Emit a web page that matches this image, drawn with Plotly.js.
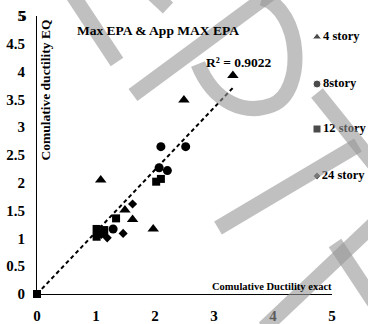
<!DOCTYPE html>
<html>
<head>
<meta charset="utf-8">
<script src="https://cdn.plot.ly/plotly-3.0.1.min.js"></script>
<style>html,body{margin:0;padding:0;background:#fff;}#chart{width:368px;height:324px;}</style>
</head>
<body>
<div id="chart"></div>
<script>
// Data
var story4X = [1.08, 1.49, 1.62, 1.97, 2.49, 3.32];
var story4Y = [2.05, 1.51, 1.34, 1.17, 3.49, 3.93];
var story8X = [2.10, 2.52, 2.07, 2.21, 1.29, 1.12];
var story8Y = [2.65, 2.65, 2.27, 2.22, 1.17, 1.10];
var story12X = [0, 1.01, 1.01, 1.14, 1.06, 1.34, 2.02, 2.10];
var story12Y = [0, 1.17, 1.03, 1.15, 1.09, 1.36, 2.02, 2.07];
var story24X = [1.62, 1.46, 1.19, 1.09];
var story24Y = [1.62, 1.09, 1.01, 1.07];
var trendX = [0, 3.33];
var trendY = [0, 3.72];
var legendLabels = ['4 story', '8story', '12 story', '24 story'];
var legendSymbols = ['triangle-up', 'circle', 'square', 'diamond'];
var legendSizes = [8, 8, 8, 6];
var xTicks = [0, 1, 2, 3, 4, 5];
var yTicks = [0, 0.5, 1, 1.5, 2, 2.5, 3, 3.5, 4, 4.5, 5];

var FONT = 'Liberation Serif, Times New Roman, serif';

// plot-area geometry (pixels) and helpers for decoration / legend placement
var L = 37, T = 16, W = 295, H = 278, XMAX = 5, YMAX = 5;
function PX(p) { return (p - L) / W; }
function PY(p) { return (T + H - p) / H; }
function DX(p) { return PX(p) * XMAX; }   // pixel -> x axis units (legend placement)
function DY(p) { return PY(p) * YMAX; }   // pixel -> y axis units (legend placement)
var legendPxX = 317, legendPxY = [37, 84, 129, 176];

var WM = 'rgba(150,150,150,0.6)';
var wmLines = [
  [72, -6, 117, 62],
  [153, -6, 168, 8],
  [133, 95, 270, -6],
  [317, 93, 374, 164],
  [218, 228, 358, 145],
  [264, 328, 374, 224],
  [335, 243, 374, 302]
];
var shapes = wmLines.map(function (s) {
  return {type: 'line', xref: 'paper', yref: 'paper', layer: 'above',
    x0: PX(s[0]), y0: PY(s[1]), x1: PX(s[2]), y1: PY(s[3]),
    line: {color: WM, width: 15}};
});
function pt(x, y) { return PX(x).toFixed(4) + ',' + PY(y).toFixed(4); }
shapes.push({type: 'path', xref: 'paper', yref: 'paper', layer: 'above',
  path: 'M ' + pt(262, -2) + ' C ' + pt(302, 10) + ' ' + pt(306, 92) + ' ' + pt(272, 105) +
        ' C ' + pt(246, 115) + ' ' + pt(214, 104) + ' ' + pt(198, 64),
  line: {color: WM, width: 15}});

var traces = [
  {x: trendX, y: trendY, mode: 'lines', line: {color: '#000', width: 2, dash: '4px,3px'}, hoverinfo: 'skip', cliponaxis: false},
  {x: story4X, y: story4Y, mode: 'markers', cliponaxis: false, marker: {symbol: 'triangle-up', size: 10, color: '#000'}},
  {x: story8X, y: story8Y, mode: 'markers', cliponaxis: false, marker: {symbol: 'circle', size: 9, color: '#000'}},
  {x: story12X, y: story12Y, mode: 'markers', cliponaxis: false, marker: {symbol: 'square', size: 8, color: '#000'}},
  {x: story24X, y: story24Y, mode: 'markers', cliponaxis: false, marker: {symbol: 'diamond', size: 7, color: '#000'}},
  // legend: symbol + label, placed on the right like the reference
  {x: legendLabels.map(function(){return DX(legendPxX);}), y: legendPxY.map(DY),
   mode: 'markers+text', text: legendLabels, textposition: 'middle right',
   cliponaxis: false,
   textfont: {family: FONT, size: 12.5, color: '#000', weight: 'bold'},
   marker: {symbol: legendSymbols, size: legendSizes, color: '#000'}}
];

var layout = {
  width: 368, height: 324,
  margin: {l: L, r: 368 - L - W, t: T, b: 324 - T - H, pad: 0},
  paper_bgcolor: '#fff', plot_bgcolor: '#fff',
  showlegend: false,
  font: {family: FONT, color: '#000'},
  xaxis: {
    range: [0, XMAX], tickvals: xTicks, showgrid: false, zeroline: false,
    showline: true, linecolor: '#000', linewidth: 1, ticks: '',
    ticklabelstandoff: 8, ticklabeloverflow: 'allow',
    tickfont: {family: FONT, size: 15, color: '#000', weight: 'bold'}
  },
  yaxis: {
    range: [0, YMAX], tickvals: yTicks, showgrid: false, zeroline: false,
    showline: true, linecolor: '#000', linewidth: 1, ticks: '',
    ticklabelstandoff: 8, ticklabeloverflow: 'allow',
    tickfont: {family: FONT, size: 15, color: '#000', weight: 'bold'}
  },
  shapes: shapes,
  annotations: [
    {text: 'Max EPA & App MAX EPA', xref: 'paper', yref: 'paper', x: PX(75), y: PY(30),
     xanchor: 'left', yanchor: 'middle', showarrow: false,
     font: {family: FONT, size: 13.5, color: '#000', weight: 'bold'}},
    {text: 'R² = 0.9022', xref: 'paper', yref: 'paper', x: PX(204), y: PY(63),
     xanchor: 'left', yanchor: 'middle', showarrow: false,
     font: {family: FONT, size: 13.5, color: '#000', weight: 'bold'}},
    {text: 'Comulative Ductility exact', xref: 'paper', yref: 'paper', x: PX(210), y: PY(286),
     xanchor: 'left', yanchor: 'middle', showarrow: false,
     font: {family: FONT, size: 10.5, color: '#000', weight: 'bold'}},
    {text: 'Comulative ductility EQ', xref: 'paper', yref: 'paper', x: PX(45), y: PY(18),
     xanchor: 'center', yanchor: 'top', textangle: -90, showarrow: false,
     font: {family: FONT, size: 13.5, color: '#000', weight: 'bold'}},
    // top y tick label (the axis drops its end label here), placed at the axis top
    {text: String(yTicks[yTicks.length - 1]), xref: 'paper', yref: 'y', x: PX(L - 8), y: yTicks[yTicks.length - 1],
     xanchor: 'right', yanchor: 'middle', showarrow: false,
     font: {family: FONT, size: 15, color: '#000', weight: 'bold'}}
  ]
};

Plotly.newPlot('chart', traces, layout, {displayModeBar: false, staticPlot: true});
</script>
</body>
</html>
